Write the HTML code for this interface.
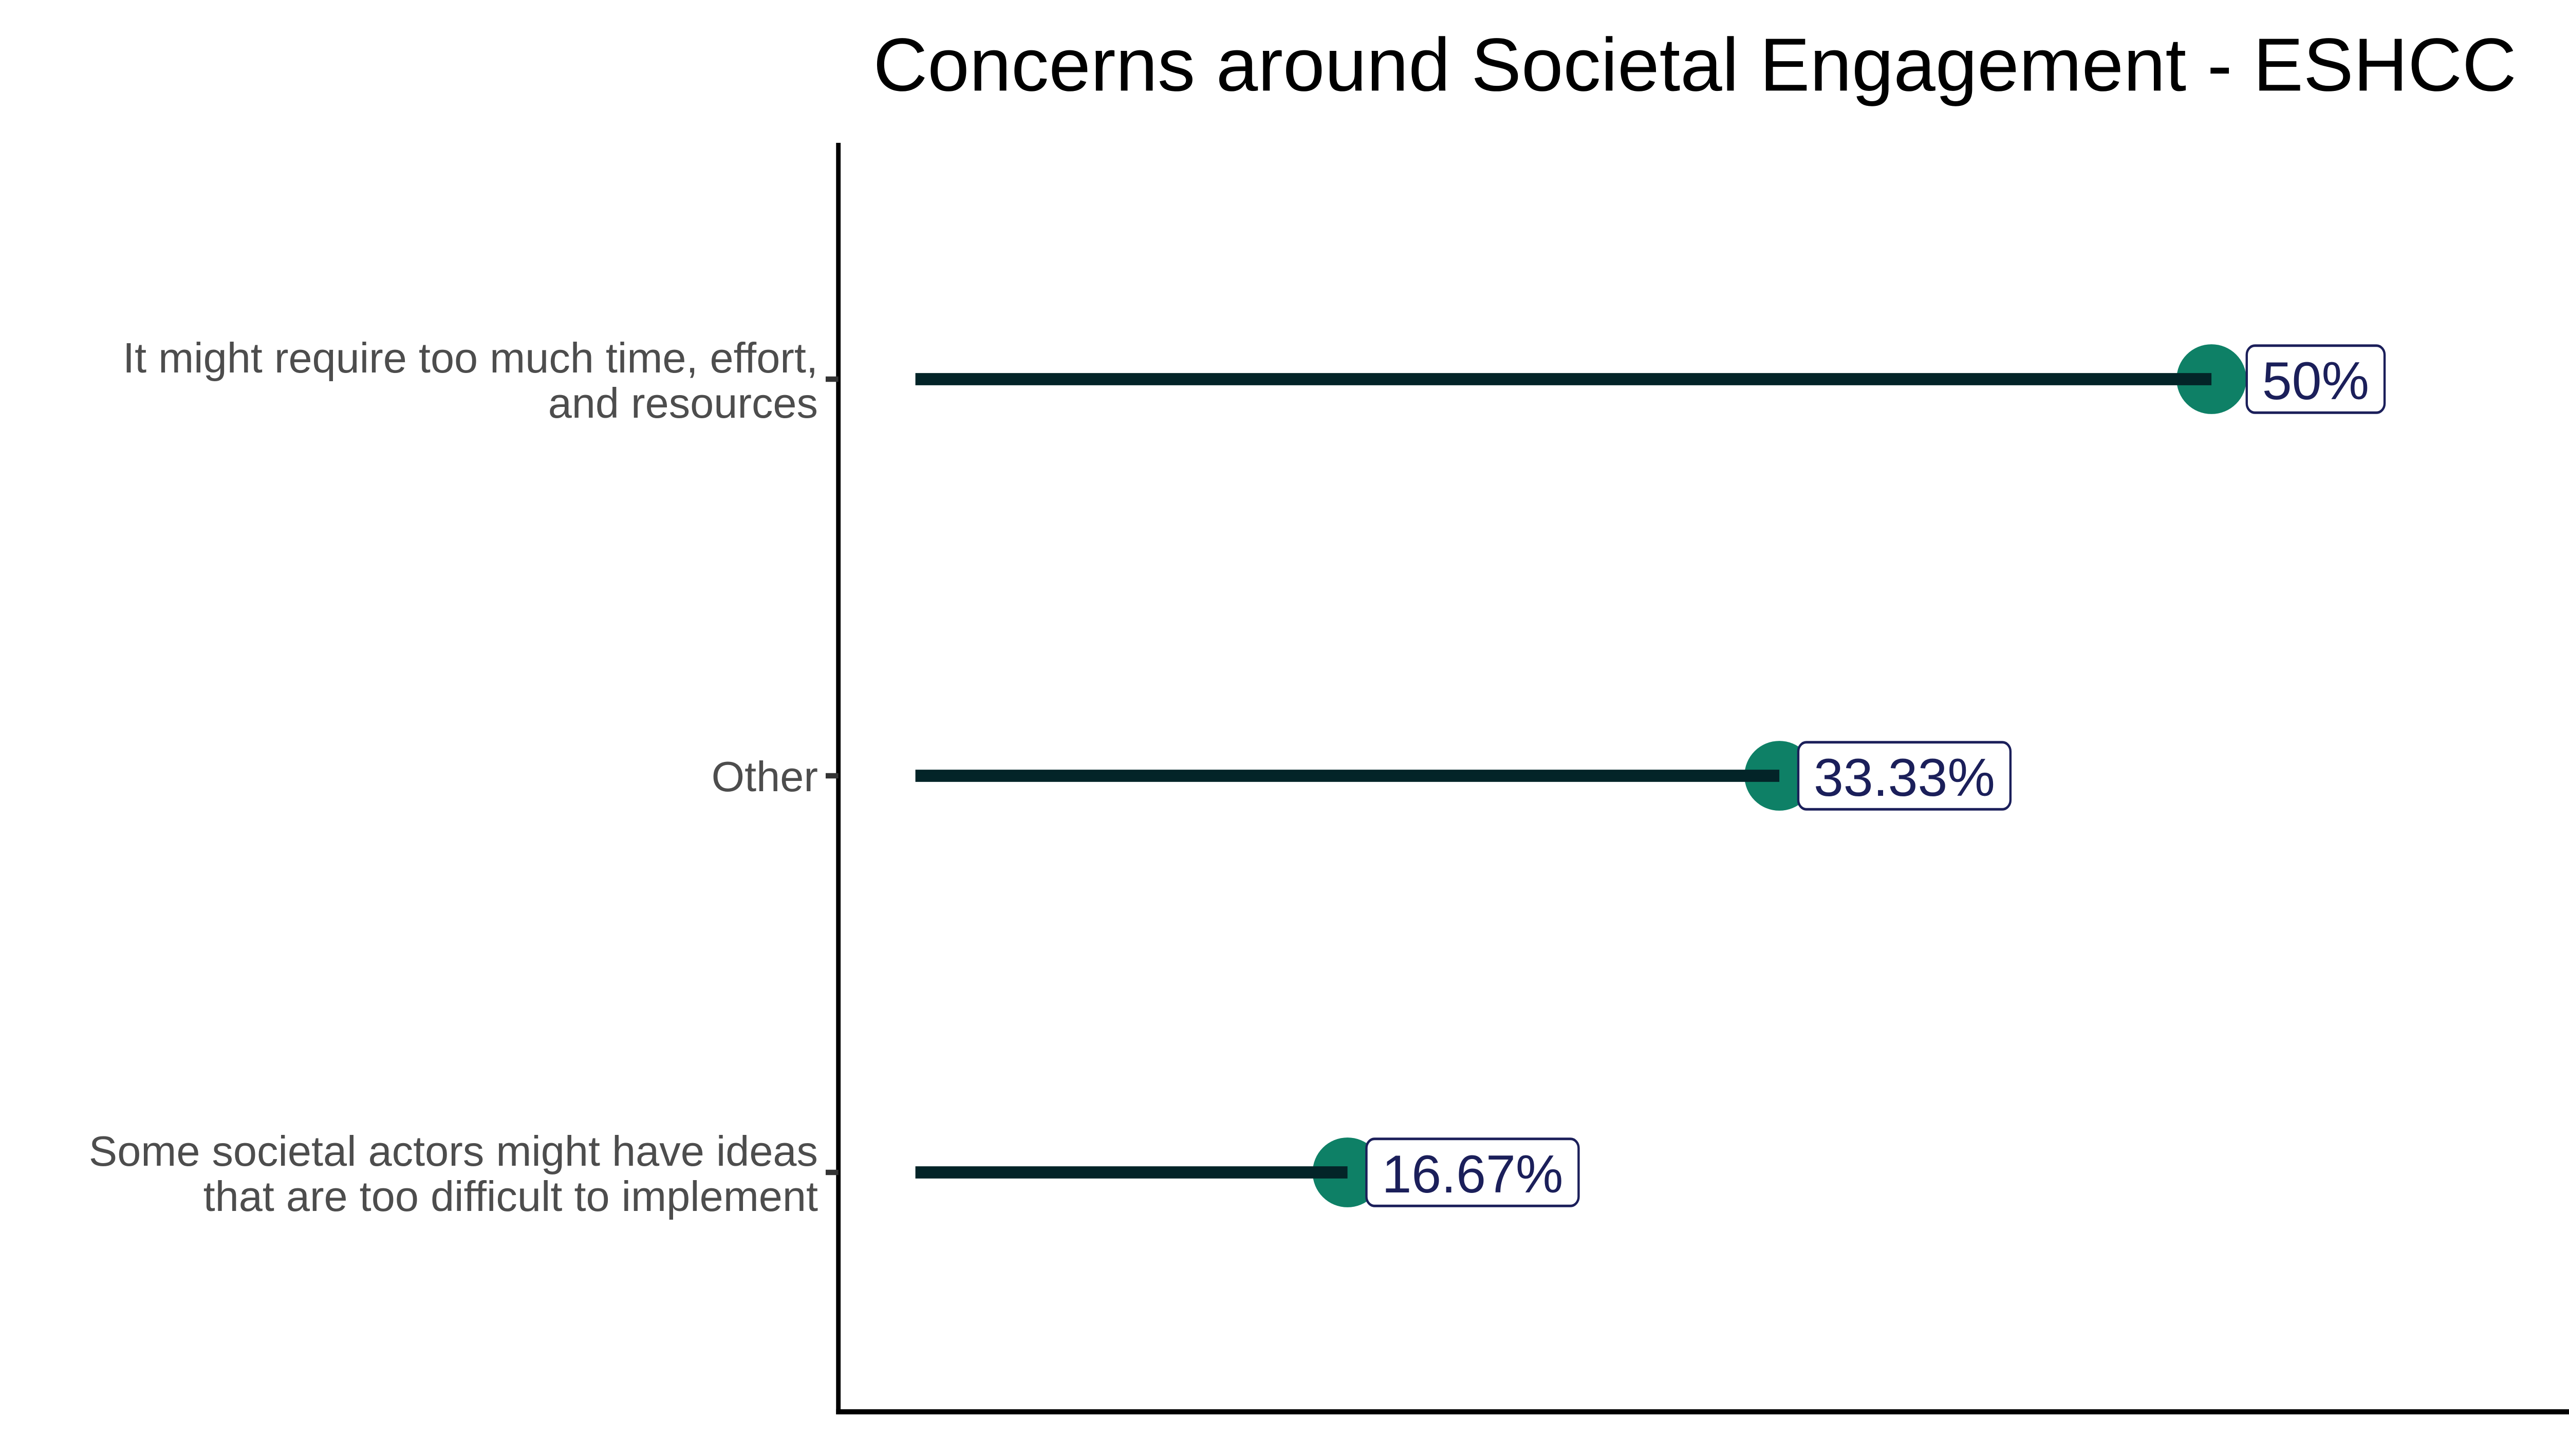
<!DOCTYPE html>
<html><head><meta charset="utf-8"><style>
html,body{margin:0;padding:0;background:#fff;width:100%;height:100%;overflow:hidden}
svg{display:block;width:100vw;height:100vh;font-family:"Liberation Sans",Arial,sans-serif}
</style></head><body>
<svg id="chart" viewBox="0 0 5669 2834" preserveAspectRatio="none" xmlns="http://www.w3.org/2000/svg">
<text id="title" x="3740" y="183" font-size="166" text-anchor="middle" fill="#000">Concerns around Societal Engagement - ESHCC</text>
<line x1="1850" y1="278" x2="1850" y2="2753" stroke="#000" stroke-width="10"/>
<line x1="1845" y1="2748" x2="5669" y2="2748" stroke="#000" stroke-width="10"/>
<g id="marks"></g>
</svg>
<script>
const categories=[["It might require too much time, effort,","and resources"],["Other"],["Some societal actors might have ideas","that are too difficult to implement"]];
const values=[50,33.33,16.67];
const labels=["50%","33.33%","16.67%"];
const x0=2020, perPct=57.2;
function xs(v){return x0+v*perPct;}
function ys(i){return 738+i*772;}
const W=window.innerWidth||5669, H=window.innerHeight||2834;
const k=(W/5669)/(H/2834);
function squash(el,cx,cy){if(Math.abs(k-1)>0.001)el.setAttribute('transform','translate('+cx+','+cy+') scale(1,'+k+') translate('+(-cx)+','+(-cy)+')');}
squash(document.getElementById('title'),3740,127);
const g=document.getElementById('marks');
const NS="http://www.w3.org/2000/svg";
function mk(t,a){const e=document.createElementNS(NS,t);for(const kk in a)e.setAttribute(kk,a[kk]);g.appendChild(e);return e;}
values.forEach((v,i)=>{
  const y=ys(i),x=xs(v);
  const tk=mk('line',{x1:1822,y1:y,x2:1850,y2:y,stroke:'#333','stroke-width':12*k});
  
  
  const lines=categories[i];
  const tl=mk('text',{x:1805,'font-size':94,fill:'#4d4d4d','text-anchor':'end'});
  
  
  const startY=lines.length>1?y-15:y+34;
  lines.forEach((s,j)=>{const ts=document.createElementNS(NS,'tspan');ts.setAttribute('x',1805);ts.setAttribute('y',startY+j*100);ts.textContent=s;tl.appendChild(ts);});
  squash(tl,1805,y);
  const c=mk('ellipse',{cx:x,cy:y,rx:77,ry:77*k,fill:'#0e8066'});
  
  
  const l=mk('line',{x1:x0,y1:y,x2:x,y2:y,stroke:'#032428','stroke-width':27*k});
  
  
  const txt=labels[i];
  const t=mk('text',{'font-size':118,fill:'#1b1f5a','text-anchor':'start',x:x,y:y+44});
  
  
  t.textContent=txt;
  const bw=t.getComputedTextLength();
  const left=x+79-0.22*(bw-231);
  t.setAttribute('x',left+34);
  squash(t,x,y);
  const r=document.createElementNS(NS,'rect');
  r.setAttribute('x',left);r.setAttribute('y',y-74*k);r.setAttribute('width',bw+68);r.setAttribute('height',148*k);
  r.setAttribute('rx',18);r.setAttribute('fill','#fff');r.setAttribute('stroke','#1b1f5a');r.setAttribute('stroke-width',5);
  
  
  g.insertBefore(r,t);
});
</script>
</body></html>
